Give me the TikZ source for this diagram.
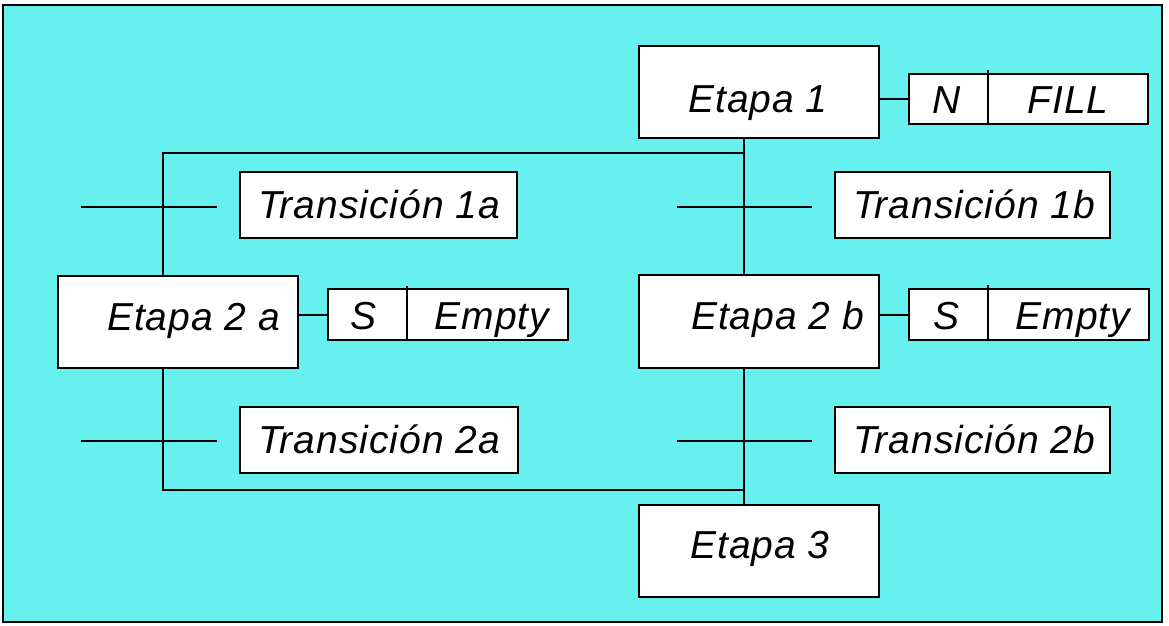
\documentclass[tikz,border=0pt]{standalone}
\usepackage{fontspec}
\setmainfont{Liberation Sans}[LetterSpace=2.5]
\definecolor{bgcyan}{RGB}{102,240,238}
\begin{document}
\begin{tikzpicture}[x=1pt,y=-1pt,line width=2.2pt,
  box/.style={draw,fill=white,line width=2.2pt,inner sep=0pt,anchor=north west},
  lbl/.style={inner sep=0pt,anchor=base,font=\fontsize{39}{44}\selectfont\itshape},
  thin/.style={line width=1.8pt}]
\useasboundingbox (0,0) rectangle (1169,625);
\draw[fill=bgcyan] (3,5) rectangle (1162,622);
% boxes
\node[box,minimum width=240pt,minimum height=92pt] (e1) at (638,45) {};
\node[box,minimum width=239pt,minimum height=50pt] (a1) at (908,73) {};
\node[box,minimum width=277pt,minimum height=66pt] (t1a) at (239,171) {};
\node[box,minimum width=275pt,minimum height=66pt] (t1b) at (834,171) {};
\node[box,minimum width=240pt,minimum height=92pt] (e2a) at (57,275) {};
\node[box,minimum width=240pt,minimum height=51pt] (a2a) at (327,288) {};
\node[box,minimum width=240pt,minimum height=93pt] (e2b) at (638,274) {};
\node[box,minimum width=240pt,minimum height=51pt] (a2b) at (908,288) {};
\node[box,minimum width=278pt,minimum height=66pt] (t2a) at (239,406) {};
\node[box,minimum width=275pt,minimum height=66pt] (t2b) at (834,406) {};
\node[box,minimum width=240pt,minimum height=92pt] (e3) at (638,504) {};
% junctions
\coordinate (j1) at (744,153);
\coordinate (j2) at (163,153);
\coordinate (j3) at (163,490);
\coordinate (j4) at (744,490);
% connectors
\draw (e1.south -| j1) -- (e2b.north -| j1);
\draw (j1) -- (j2) -- (e2a.north -| j2);
\draw (e2a.south -| j3) -- (j3) -- (j4);
\draw (e2b.south -| j4) -- (e3.north -| j4);
\draw (a1.west) -- (a1.west -| e1.east);
\draw (a2a.west) -- (a2a.west -| e2a.east);
\draw (a2b.west) -- (a2b.west -| e2b.east);
% transition bars
\coordinate (b1l) at (81,207); \coordinate (b1r) at (217,207);
\coordinate (b2l) at (677,207); \coordinate (b2r) at (812,207);
\coordinate (b3l) at (81,441); \coordinate (b3r) at (217,441);
\coordinate (b4l) at (677,441); \coordinate (b4r) at (812,441);
\draw (b1l) -- (b1r);
\draw (b2l) -- (b2r);
\draw (b3l) -- (b3r);
\draw (b4l) -- (b4r);
% dividers
\coordinate (d1) at (988,70);
\coordinate (d2) at (407,286);
\coordinate (d3) at (988,285);
\draw[thin] (d1) -- (d1 |- a1.south);
\draw[thin] (d2) -- (407,341);
\draw[thin] (d3) -- (988,341);
% labels
\node[lbl] (le1) at (758,112) {Etapa 1};
\node[lbl,anchor=base east] (le2a) at (281,330) {Etapa 2 a};
\node[lbl,anchor=base east] (le2b) at (865,329) {Etapa 2 b};
\node[lbl] (le3) at (760,558) {Etapa 3};
\node[lbl] (lt1a) at (379,218) {Transición 1a};
\node[lbl] (lt1b) at (974,218) {Transición 1b};
\node[lbl] (lt2a) at (379,453) {Transición 2a};
\node[lbl] (lt2b) at (974,453) {Transición 2b};
\node[lbl] (ln) at (947,113) {N};
\node[lbl] (lfill) at (1068,113) {FILL};
\node[lbl] (ls1) at (364,329) {S};
\node[lbl] (lem1) at (492,329) {Empty};
\node[lbl] (ls2) at (946,329) {S};
\node[lbl] (lem2) at (1073,329) {Empty};
\end{tikzpicture}
\end{document}
